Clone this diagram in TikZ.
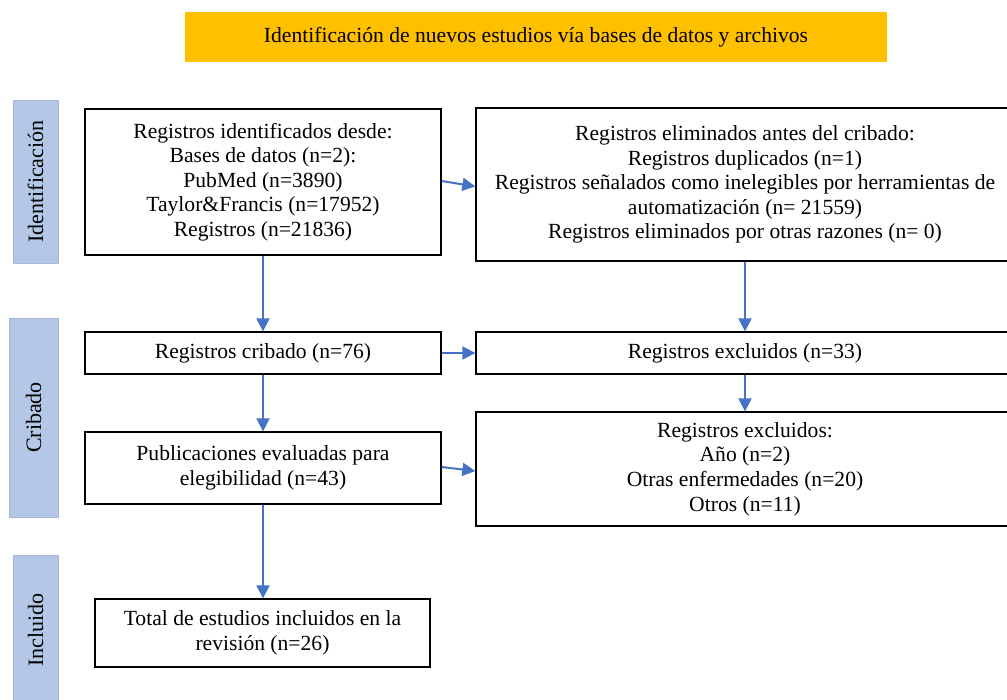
\documentclass[tikz,border=0pt]{standalone}
\usepackage{fontspec}
\setmainfont{Liberation Serif}
\usetikzlibrary{arrows.meta, positioning}

\definecolor{titlebar}{HTML}{FFC000}
\definecolor{sidebar}{HTML}{B4C7E7}
\definecolor{sideedge}{HTML}{A6B8D6}
\definecolor{arrowblue}{HTML}{4472C4}

\tikzset{
    stagebox/.style={draw=black, line width=1.3pt, align=center, inner sep=2pt,
        font=\fontsize{21.6}{24.6}\selectfont},
    phasebar/.style={fill=sidebar, draw=sideedge, line width=0.8pt, rotate=90,
        font=\fontsize{22}{24}\selectfont},
    flowarrow/.style={draw=arrowblue, line width=2pt, -{Triangle[length=13pt, width=13pt]}}
}

\begin{document}
\begin{tikzpicture}[x=1pt, y=-1pt]
    \useasboundingbox (0,0) rectangle (1007,700);

    % Title bar
    \node[fill=titlebar, minimum width=702pt, minimum height=50pt,
        font=\fontsize{21.6}{24}\selectfont] (title) at (536,37)
        {Identificación de nuevos estudios vía bases de datos y archivos};

    % Phase bars on the left
    \node[phasebar, minimum width=163pt, minimum height=45pt] (phaseid) at (35.5,181.5) {Identificación};
    \node[phasebar, minimum width=199pt, minimum height=49pt] (phasecrib) at (33.5,417.5) {Cribado};
    \node[phasebar, minimum width=150pt, minimum height=45pt] (phaseinc) at (35.5,630) {Incluido};

    % Identification
    \node[stagebox, minimum width=356pt, minimum height=146pt] (identified) at (263,182)
        {Registros identificados desde:\\Bases de datos (n=2):\\PubMed (n=3890)\\Taylor\&Francis (n=17952)\\Registros (n=21836)};
    \node[stagebox, minimum width=538pt, minimum height=153pt] (removed) at (745,184.5)
        {Registros eliminados antes del cribado:\\Registros duplicados (n=1)\\Registros señalados como inelegibles por herramientas de\\automatización (n= 21559)\\Registros eliminados por otras razones (n= 0)};

    % Screening
    \node[stagebox, minimum width=356pt, minimum height=42pt] (screened) at (263,353)
        {Registros cribado (n=76)};
    \node[stagebox, minimum width=538pt, minimum height=42pt] (excluded) at (745,353)
        {Registros excluidos (n=33)};
    \node[stagebox, minimum width=356pt, minimum height=72pt] (assessed) at (263,468)
        {Publicaciones evaluadas para\\elegibilidad (n=43)};
    \node[stagebox, minimum width=538pt, minimum height=114pt] (reasons) at (745,469)
        {Registros excluidos:\\Año (n=2)\\Otras enfermedades (n=20)\\Otros (n=11)};

    % Included
    \node[stagebox, minimum width=335pt, minimum height=68pt] (included) at (262.5,633)
        {Total de estudios incluidos en la\\revisión (n=26)};

    % Arrows
    \draw[flowarrow] (identified.east) ++(0,-1) -- ([yshift=-2pt]removed.west);
    \draw[flowarrow] (identified.south) -- (screened.north);
    \draw[flowarrow] (removed.south) -- (excluded.north);
    \draw[flowarrow] (screened) -- (excluded);
    \draw[flowarrow] (excluded) -- (reasons.north);
    \draw[flowarrow] (screened) -- (assessed.north);
    \draw[flowarrow] (assessed.east) ++(0,-1) -- ([yshift=-2pt]reasons.west);
    \draw[flowarrow] (assessed.south) -- (assessed.south |- included.north);
\end{tikzpicture}
\end{document}
